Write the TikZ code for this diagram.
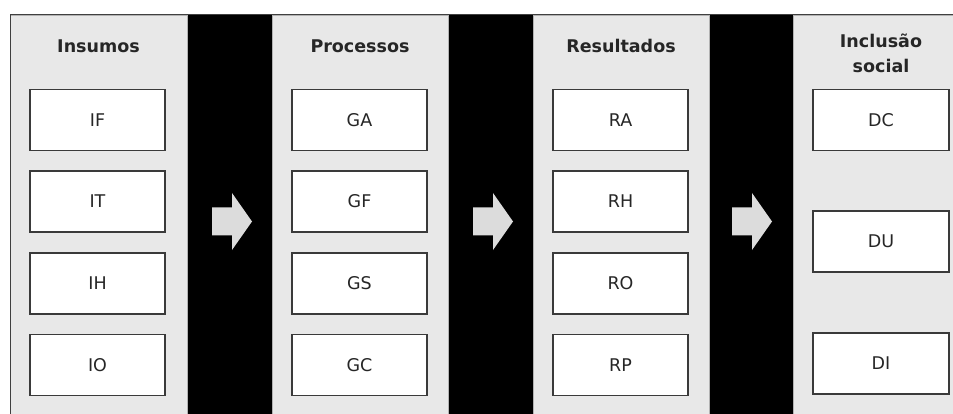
\documentclass[tikz,border=0pt]{standalone}
\usepackage{fontspec}
\setmainfont{DejaVu Sans}
\usepackage{xcolor}
\usetikzlibrary{positioning}

\definecolor{panelgray}{HTML}{E8E8E8}
\definecolor{arrowgray}{HTML}{DCDCDC}
\definecolor{boxline}{HTML}{3A3A3A}

\begin{document}
\begin{tikzpicture}[x=1pt,y=-1pt]
	% Styles for panels, boxes, titles and arrows
	\tikzstyle{panel} = [rectangle, fill=panelgray, draw=gray!60, line width=0.8pt, inner sep=0pt, anchor=north west, minimum height=420pt]
	\tikzstyle{item} = [rectangle, draw=boxline, fill=white, line width=1.6pt, minimum width=135pt, minimum height=61pt, text=black!85, font=\fontsize{17.5}{21}\selectfont]
	\tikzstyle{title} = [text=black!85, align=center, font=\bfseries\fontsize{17.5}{25}\selectfont]
	\tikzstyle{flow} = [fill=arrowgray]

	\useasboundingbox (0,0) rectangle (953,414);

	% Black background behind the panels
	\fill[black] (10,15) rectangle (970,430);

	% The four panels
	\node[panel, minimum width=177pt] (p1) at (10,15) {};
	\node[panel, minimum width=176pt] (p2) at (272,15) {};
	\node[panel, minimum width=176pt] (p3) at (533,15) {};
	\node[panel, minimum width=180pt] (p4) at (793,15) {};

	% Outer frame
	\draw[black!75, line width=1pt] (10,430) -- (10,15) -- (970,15);

	% Titles
	\node[title, anchor=base] (insumos) at (98.5,53) {Insumos};
	\node[title, anchor=base] (processos) at (360,53) {Processos};
	\node[title, anchor=base] (resultados) at (621,53) {Resultados};
	\node[title] (inclusao) at (881,53) {Inclusão\\social};

	% Insumos
	\node[item] (IF) at (97.5,120) {IF};
	\node[item, below=19pt of IF] (IT) {IT};
	\node[item, below=19pt of IT] (IH) {IH};
	\node[item, below=19pt of IH] (IO) {IO};

	% Processos
	\node[item] (GA) at (359.5,120) {GA};
	\node[item, below=19pt of GA] (GF) {GF};
	\node[item, below=19pt of GF] (GS) {GS};
	\node[item, below=19pt of GS] (GC) {GC};

	% Resultados
	\node[item] (RA) at (620.5,120) {RA};
	\node[item, below=19pt of RA] (RH) {RH};
	\node[item, below=19pt of RH] (RO) {RO};
	\node[item, below=19pt of RO] (RP) {RP};

	% Inclusao social
	\node[item, minimum width=136pt] (DC) at (881,120) {DC};
	\node[item, minimum width=136pt, below=59pt of DC] (DU) {DU};
	\node[item, minimum width=136pt, below=59pt of DU] (DI) {DI};

	% Block arrows between the panels
	\coordinate (a1) at (212,221.5);
	\coordinate (a2) at (473,221.5);
	\coordinate (a3) at (732,221.5);
	\fill[flow] (a1) ++(0,-14) -- ++(20,0) -- ++(0,-14.5) -- ++(20,28.5) -- ++(-20,28.5) -- ++(0,-14.5) -- ++(-20,0) -- cycle;
	\fill[flow] (a2) ++(0,-14) -- ++(20,0) -- ++(0,-14.5) -- ++(20,28.5) -- ++(-20,28.5) -- ++(0,-14.5) -- ++(-20,0) -- cycle;
	\fill[flow] (a3) ++(0,-14) -- ++(20,0) -- ++(0,-14.5) -- ++(20,28.5) -- ++(-20,28.5) -- ++(0,-14.5) -- ++(-20,0) -- cycle;

\end{tikzpicture}
\end{document}
